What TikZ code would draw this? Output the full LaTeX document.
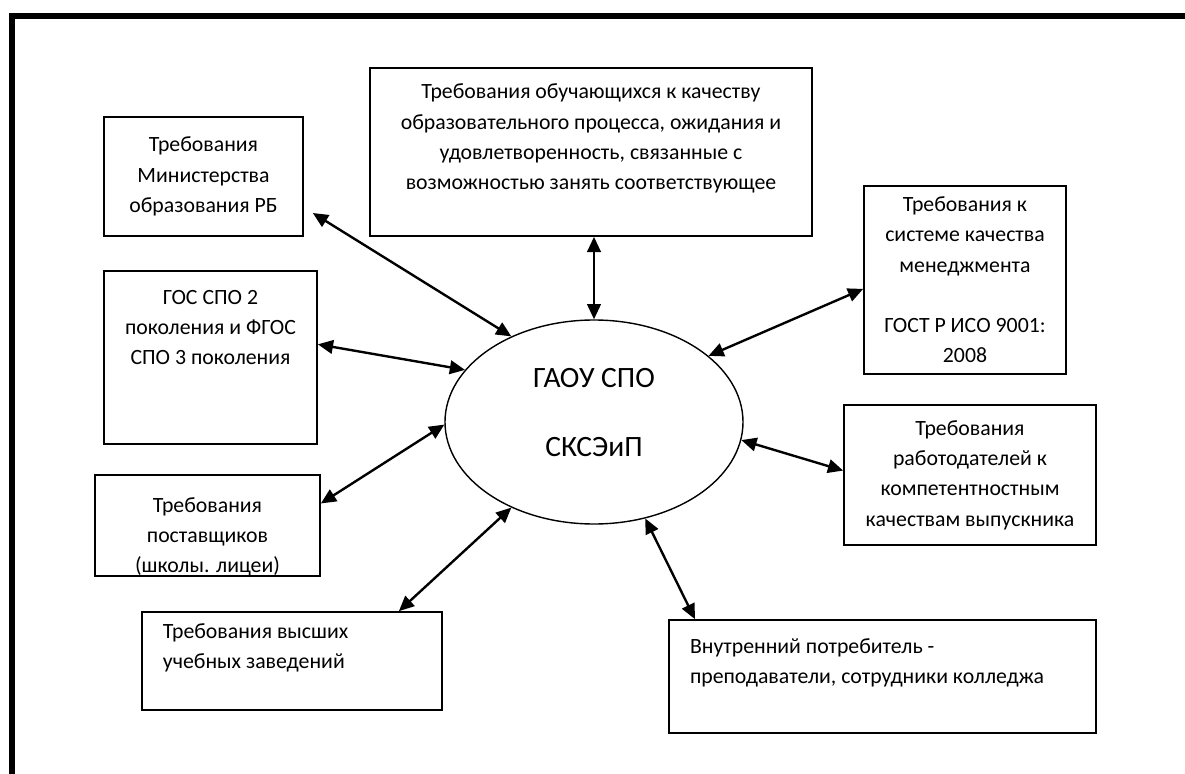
\documentclass[tikz,border=0pt]{standalone}
\usepackage{fontspec}
\setmainfont{Carlito}
\usepackage{tikz}
\usetikzlibrary{shapes.geometric, arrows.meta, positioning, calc}

\begin{document}
\begin{tikzpicture}[x=0.25mm, y=-0.25mm,
    box/.style={draw, rectangle, line width=1.2pt, align=center, inner sep=0pt, font=\fontsize{15.5pt}{21.5pt}\selectfont},
    link/.style={line width=1.7pt, {Triangle[length=3.8mm, width=3.4mm]}-{Triangle[length=3.8mm, width=3.4mm]}}]
\useasboundingbox (0,0) rectangle (1185,774);

% frame
\draw[line width=1.5mm] (12,800) -- (12,16) -- (1200,16);

% centre
\node[draw, ellipse, line width=1pt, minimum width=74.5mm, minimum height=51mm, align=center, font=\fontsize{21pt}{49pt}\selectfont] (ell) at (594,422) {ГАОУ СПО\\СКСЭиП\\[-12.5mm]~};

% requirements
\node[box, minimum width=110.5mm, minimum height=42mm] (obuch) at (591,152) {Требования обучающихся к качеству\\образовательного процесса, ожидания и\\удовлетворенность, связанные с\\возможностью занять соответствующее\\~};
\node[box, minimum width=49.75mm, minimum height=29.75mm] (min) at (203.5,176.5) {Требования\\Министерства\\образования РБ};
\node[box, minimum width=53.25mm, minimum height=43.25mm] (gos) at (210.5,357.5) {ГОС СПО 2\\поколения и ФГОС\\СПО 3 поколения\\~\\~};
\node[box, minimum width=56.25mm, minimum height=25.25mm] (post) at (207.5,525.5) {};
\begin{scope}
\clip (post.south west) rectangle (post.north east);
\node[box, draw=none] (posttxt) at (207.5,537) {Требования\\поставщиков\\(школы. лицеи)};
\end{scope}
\node[box, align=flush left, text width=64.5mm, minimum width=75mm, minimum height=24.5mm] (vuz) at (292,661) {Требования высших\\учебных заведений\\~};
\node[box, minimum width=50.5mm, minimum height=47mm] (gost) at (965,280) {Требования к\\системе качества\\менеджмента\\~\\ГОСТ Р ИСО 9001:\\2008};
\node[box, minimum width=63mm, minimum height=35mm] (rab) at (970,475) {Требования\\работодателей к\\компетентностным\\качествам выпускника};
\node[box, align=flush left, text width=96.25mm, minimum width=106.75mm, minimum height=28.25mm] (vnut) at (882.5,676.5) {Внутренний потребитель -\\преподаватели, сотрудники колледжа\\~};

% links
\draw[link] (ell.north) -- (ell.north |- obuch.south);
\draw[link] (ell.134) -- ($(min.-20)+(9,0)$);
\draw[link] (ell.158) -- (gos.7);
\draw[link] (ell.181) -- (post.11);
\draw[link] (ell.226) -- (vuz.25);
\draw[link] (ell.30) -- (gost.185);
\draw[link] (ell.-7) -- (rab.178);
\draw[link] (ell.-62) -- (vnut.163);
\end{tikzpicture}
\end{document}
